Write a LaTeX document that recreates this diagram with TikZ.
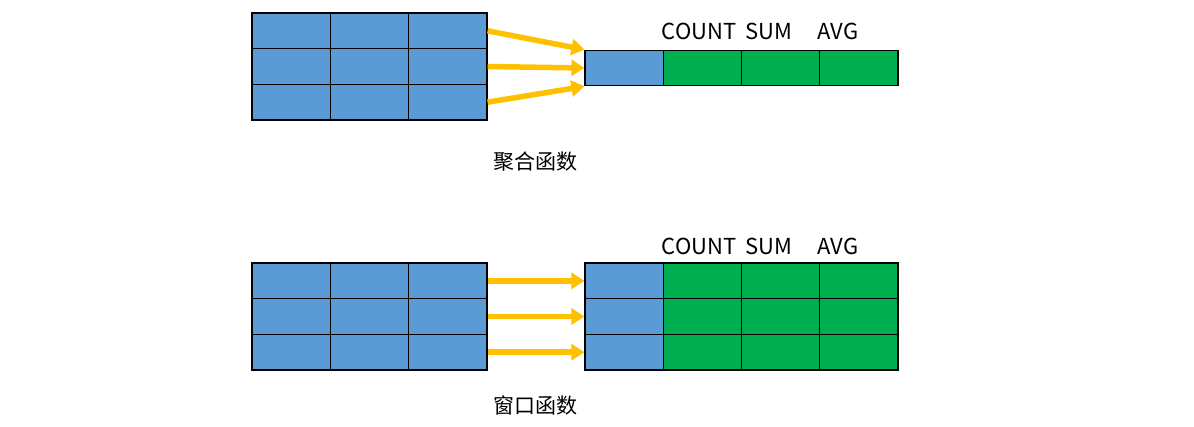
\documentclass[tikz,border=0pt]{standalone}
\usepackage{fontspec}
\setmainfont{Noto Sans CJK SC}
\usetikzlibrary{arrows.meta}
\definecolor{cblue}{HTML}{5B9BD5}
\definecolor{cgreen}{HTML}{00B050}
\definecolor{carrow}{HTML}{FFC000}
\begin{document}
\begin{tikzpicture}[x=1pt,y=-1pt,
  cell/.style={draw=black,line width=1.1pt,inner sep=0pt,minimum width=78.3pt,minimum height=35.67pt},
  bluecell/.style={cell,fill=cblue},
  greencell/.style={cell,fill=cgreen},
  arr/.style={draw=carrow,line width=5.5pt,-{Triangle[length=13pt,width=16pt]}},
  hdr/.style={font=\fontsize{22}{26}\selectfont,inner sep=0pt},
  captext/.style={font=\fontsize{21}{25}\selectfont,inner sep=0pt}]
\useasboundingbox (0,0) rectangle (1194,426);
% top: aggregate
\foreach \r in {0,1,2}
  \foreach \c in {0,1,2}
    \node[bluecell] (tl-\r-\c) at ({252+78.33*\c+39.17},{13+35.67*\r+17.835}) {};
\foreach \c in {0,1,2,3}{
  \ifnum\c=0
    \node[bluecell] (tr-\c) at ({585+78.25*\c+39.13},68) {};
  \else
    \node[greencell] (tr-\c) at ({585+78.25*\c+39.13},68) {};
  \fi
}
\node[hdr] (tcount) at (699,31) {COUNT};
\node[hdr] (tsum) at (769,31) {SUM};
\node[hdr] (tavg) at (838,31) {AVG};
\draw[arr] (tl-0-2.east) -- (tr-0.north west);
\draw[arr] (tl-1-2.east) -- (tr-0.west);
\draw[arr] (tl-2-2.east) -- (tr-0.south west);
\node[captext] (agg) at (535,162) {聚合函数};
% bottom: window
\foreach \r in {0,1,2}
  \foreach \c in {0,1,2}
    \node[bluecell] (bl-\r-\c) at ({252+78.33*\c+39.17},{263+35.67*\r+17.835}) {};
\foreach \r in {0,1,2}
  \foreach \c in {0,1,2,3}{
    \ifnum\c=0
      \node[bluecell] (br-\r-\c) at ({585+78.25*\c+39.13},{263+35.67*\r+17.835}) {};
    \else
      \node[greencell] (br-\r-\c) at ({585+78.25*\c+39.13},{263+35.67*\r+17.835}) {};
    \fi
  }
\node[hdr] (bcount) at (699,246) {COUNT};
\node[hdr] (bsum) at (769,246) {SUM};
\node[hdr] (bavg) at (838,246) {AVG};
\foreach \r in {0,1,2}
  \draw[arr] (bl-\r-2.east) -- (br-\r-0.west);
\node[captext] (win) at (535,405) {窗口函数};
\end{tikzpicture}
\end{document}
